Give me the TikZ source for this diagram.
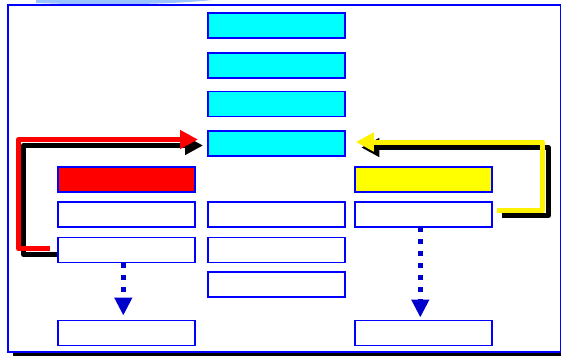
\documentclass[tikz,border=0pt]{standalone}
\usetikzlibrary{arrows.meta}
\definecolor{frameblue}{HTML}{0000FF}
\definecolor{dotblue}{HTML}{0000CC}
\definecolor{arcblue}{HTML}{99C4FF}
\definecolor{boxcyan}{HTML}{00FFFF}
\definecolor{boxred}{HTML}{FF0000}
\definecolor{boxyellow}{HTML}{FFFF00}
\tikzset{
  box/.style={draw=frameblue, line width=1.6pt, minimum width=137pt, minimum height=25pt, anchor=north west, inner sep=0pt, outer sep=0pt, fill=white},
  cyanbox/.style={box, fill=boxcyan},
  redbox/.style={box, fill=boxred},
  yellowbox/.style={box, fill=boxyellow},
  fatarrow/.style={line width=5pt, line join=round, -{Triangle[length=18pt,width=18pt]}},
  shadowed/.style={transform canvas={shift={(5pt,-6pt)}}},
  dotarrow/.style={draw=dotblue, line width=5pt, dash pattern=on 5pt off 7pt, -{Triangle[length=18pt,width=17pt]}}
}
\begin{document}
\begin{tikzpicture}[x=1pt,y=-1pt]
\useasboundingbox (0,0) rectangle (561,356);
% top light arc
\fill[arcblue] (36,0) -- (36,3) .. controls (100,5.5) and (170,4.5) .. (213,0) -- cycle;
% frame
\fill[black] (13,352.5) rectangle (561,356);
\draw[frameblue, line width=1.5pt] (8,5) rectangle (560.5,352);
% central column
\node[cyanbox] (c1) at (207.8,12.8) {};
\node[cyanbox] (c2) at (207.8,52.8) {};
\node[cyanbox] (c3) at (207.8,91.5) {};
\node[cyanbox] (c4) at (207.8,131) {};
\node[box] (m1) at (207.8,202) {};
\node[box] (m2) at (207.8,237.5) {};
\node[box] (m3) at (207.8,272) {};
% left column
\node[redbox] (l0) at (57.8,166.8) {};
\node[box] (l1) at (57.8,202) {};
\node[box] (l2) at (57.8,237.5) {};
\node[box] (lb) at (57.8,320.5) {};
% right column
\node[yellowbox] (r0) at (354.8,166.8) {};
\node[box] (r1) at (354.8,202) {};
\node[box] (rb) at (354.8,320.5) {};
% red loop arrow with shadow
\draw[fatarrow, black, shadowed] ([xshift=-5.8pt,yshift=1.5pt]l2.west) -- ++(-33.5,0) |- ([xshift=-9.8pt,yshift=4pt]c4.west);
\draw[fatarrow, red] ([xshift=-7.8pt,yshift=1.5pt]l2.west) -- ++(-31.5,0) |- ([xshift=-9.8pt,yshift=4pt]c4.west);
% yellow loop arrow with shadow
\draw[fatarrow, black, transform canvas={shift={(5.5pt,-5.5pt)}}] ([xshift=5pt,yshift=4.5pt]r1.east) -- ++(46,0) |- ([xshift=11pt,yshift=1.5pt]c4.east);
\draw[fatarrow, yellow] ([xshift=5pt,yshift=4.5pt]r1.east) -- ++(46,0) |- ([xshift=11pt,yshift=1.5pt]c4.east);
% dotted arrows
\draw[dotarrow] ([xshift=-3pt]l2.south) -- ([xshift=-3pt,yshift=5pt]lb.north);
\draw[dotarrow] ([xshift=-3pt]r1.south) -- ([xshift=-3pt,yshift=3pt]rb.north);
\end{tikzpicture}
\end{document}
